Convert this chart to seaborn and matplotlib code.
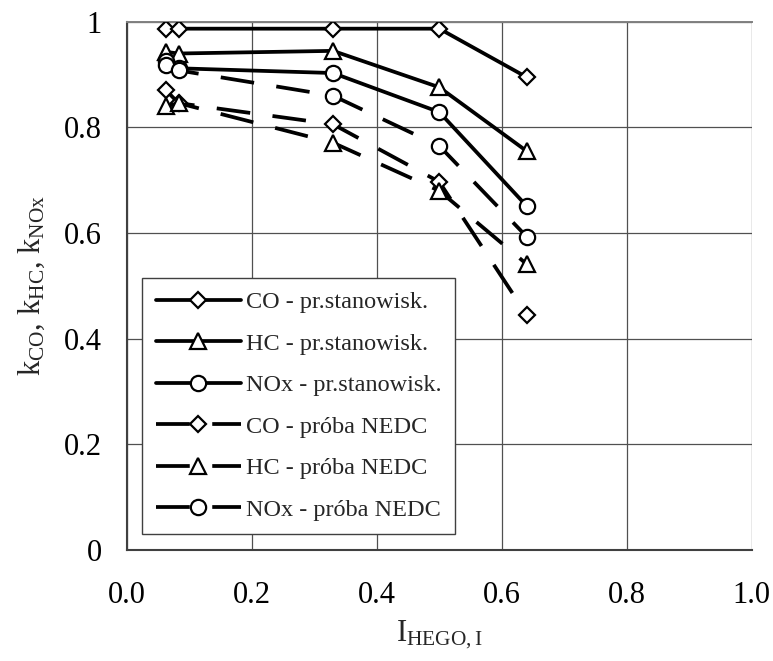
import numpy as np
import pandas as pd
import matplotlib
matplotlib.use("Agg")
import matplotlib.pyplot as plt
import seaborn as sns

# Values
x_stand = [0.063, 0.083, 0.33, 0.50, 0.64]
co_stand = [0.987, 0.987, 0.987, 0.987, 0.895]
hc_stand = [0.943, 0.940, 0.945, 0.876, 0.755]
nox_stand = [0.925, 0.912, 0.903, 0.829, 0.651]

x_nedc = [0.063, 0.083, 0.33, 0.50, 0.64]
co_nedc = [0.870, 0.846, 0.806, 0.697, 0.445]
hc_nedc = [0.840, 0.846, 0.771, 0.680, 0.541]
nox_nedc = [0.918, 0.908, 0.860, 0.765, 0.593]

labels = ["CO - pr.stanowisk.", "HC - pr.stanowisk.", "NOx - pr.stanowisk.",
          "CO - próba NEDC", "HC - próba NEDC", "NOx - próba NEDC"]
x_ticks = [0.0, 0.2, 0.4, 0.6, 0.8, 1.0]
x_ticklabels = ["0.0", "0.2", "0.4", "0.6", "0.8", "1.0"]
y_ticks = [0, 0.2, 0.4, 0.6, 0.8, 1.0]
y_ticklabels = ["0", "0.2", "0.4", "0.6", "0.8", "1"]

sns.set_style("white")
plt.rcParams['font.family'] = ['Liberation Serif', 'DejaVu Serif']
plt.rcParams['mathtext.fontset'] = 'custom'
plt.rcParams['mathtext.rm'] = 'Liberation Serif'
plt.rcParams['mathtext.it'] = 'Liberation Serif:italic'

fig = plt.figure(figsize=(7.73, 6.61), dpi=100)
ax = fig.add_axes([0.164, 0.168, 0.8086, 0.799])

dash = (0, (9, 6))
series = [
    (x_stand, co_stand, "D", "-"),
    (x_stand, hc_stand, "^", "-"),
    (x_stand, nox_stand, "o", "-"),
    (x_nedc, co_nedc, "D", dash),
    (x_nedc, hc_nedc, "^", dash),
    (x_nedc, nox_nedc, "o", dash),
]
sizes = {"D": 8, "^": 11, "o": 11}

for (xs, ys, mk, ls), lab in zip(series, labels):
    df = pd.DataFrame({"x": xs, "y": ys})
    sns.lineplot(data=df, x="x", y="y", ax=ax, color="black", linewidth=2.7,
                 linestyle=ls, marker=mk, markersize=sizes[mk],
                 markerfacecolor="white", markeredgecolor="black",
                 markeredgewidth=1.6, label=lab, zorder=3)

ax.set_xlim(0, 1)
ax.set_ylim(0, 1)
ax.set_xticks(x_ticks)
ax.set_xticklabels(x_ticklabels)
ax.set_yticks(y_ticks)
ax.set_yticklabels(y_ticklabels)
ax.tick_params(axis="both", labelsize=22, direction="out", length=7,
               width=0.8, colors="black")
ax.tick_params(axis="y", pad=11)
ax.tick_params(axis="x", pad=15)
ax.grid(True, color="#505050", linewidth=0.9)

for side in ["left", "bottom"]:
    ax.spines[side].set_color("#404040")
    ax.spines[side].set_linewidth(1.5)
ax.spines["top"].set_color("#808080")
ax.spines["top"].set_linewidth(1.4)
ax.spines["right"].set_visible(False)

ax.set_xlabel(r"I$_{\rm HEGO,I}$", fontsize=22, labelpad=7)
ax.set_ylabel(r"k$_{\rm CO}$, k$_{\rm HC}$, k$_{\rm NOx}$", fontsize=22, labelpad=12)

leg = ax.legend(loc="upper left", bbox_to_anchor=(0.025, 0.515), borderaxespad=0,
                fontsize=17.5, handlelength=3.5, handletextpad=0.2,
                labelspacing=0.8, fancybox=False, framealpha=1,
                edgecolor="#404040", borderpad=0.55)
leg.get_frame().set_linewidth(1.0)

plt.savefig("out.png", dpi=100)
